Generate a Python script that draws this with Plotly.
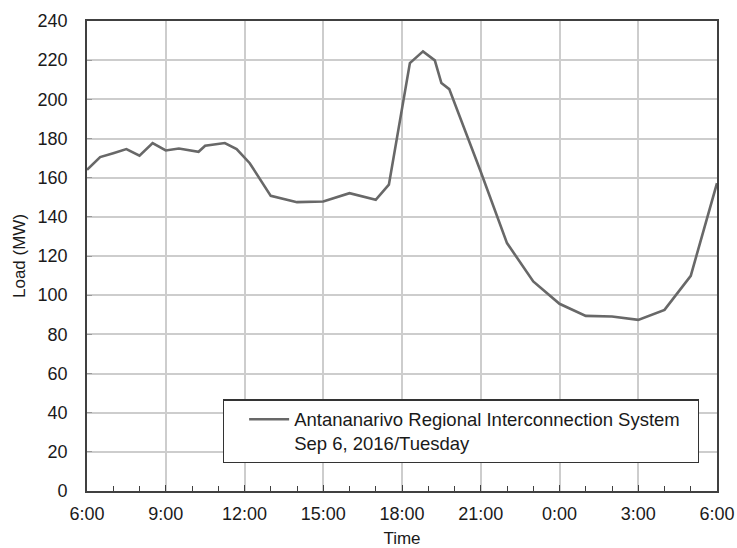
import plotly.graph_objects as go

# Hours since 0:00 on Sep 6 (values > 24 are the following morning)
hours = [6.0, 6.5, 7.0, 7.5, 8.0, 8.5, 9.0, 9.5, 10.25, 10.5, 11.25, 11.7,
         12.2, 13.0, 14.0, 15.0, 16.0, 17.0, 17.5, 18.0, 18.3, 18.8, 19.25,
         19.5, 19.8, 21.0, 22.0, 23.0, 24.0, 25.0, 26.0, 27.0, 28.0, 29.0, 30.0]
load_mw = [164.0, 170.5, 172.5, 174.6, 171.2, 177.7, 173.9, 174.9, 173.2, 176.3, 177.7, 174.6,
           167.4, 150.7, 147.5, 147.8, 152.1, 148.7, 156.4, 196.0, 218.5, 224.5, 219.9,
           208.3, 205.2, 163.0, 126.6, 107.0, 95.6, 89.4, 89.1, 87.4, 92.5, 109.9, 157.2]

x_tickvals = [6, 9, 12, 15, 18, 21, 24, 27, 30]
x_ticktext = ["6:00", "9:00", "12:00", "15:00", "18:00", "21:00", "0:00", "3:00", "6:00"]
y_tickvals = list(range(0, 241, 20))

series_name = "Antananarivo Regional Interconnection System<br>Sep 6, 2016/Tuesday"

font_family = "Liberation Sans, Arial, sans-serif"
text_color = "#1a1a1a"

fig = go.Figure()
fig.add_trace(go.Scatter(
    x=hours, y=load_mw, mode="lines", name=series_name,
    line=dict(color="#686868", width=2.6),
    showlegend=True,
))

fig.update_layout(
    width=737, height=548,
    margin=dict(l=87, r=20, t=21, b=57, autoexpand=False),
    paper_bgcolor="white", plot_bgcolor="white",
    font=dict(family=font_family, size=18, color=text_color),
    showlegend=True,
    legend=dict(
        x=0.2156, y=0.195, xanchor="left", yanchor="top",
        bgcolor="white", bordercolor="#333333", borderwidth=1.3,
        font=dict(family=font_family, size=18.5, color=text_color),
        valign="top", indentation=20, itemwidth=40,
        orientation="h", entrywidth=398, entrywidthmode="pixels",
        tracegroupgap=0,
    ),
)

fig.update_xaxes(
    range=[6, 30],
    tickmode="array", tickvals=x_tickvals, ticktext=x_ticktext,
    ticks="inside", ticklen=6, tickcolor="#404040", tickwidth=1.3,
    minor=dict(dtick=1, tick0=6, ticks="inside", ticklen=5, tickcolor="#404040",
               tickwidth=1.2, showgrid=False),
    showgrid=True, gridcolor="#cdcdcd", gridwidth=1.5,
    showline=True, linecolor="#404040", linewidth=1.6, mirror=True,
    zeroline=False,
    tickfont=dict(size=18), ticklabelstandoff=6,
    title=dict(text="Time", font=dict(size=17), standoff=15),
)
fig.update_yaxes(
    range=[0, 240],
    tickmode="array", tickvals=y_tickvals,
    ticks="inside", ticklen=5, tickcolor="#9a9a9a", tickwidth=1.3,
    showgrid=True, gridcolor="#cdcdcd", gridwidth=1.5,
    showline=True, linecolor="#404040", linewidth=1.6, mirror=True,
    zeroline=False,
    tickfont=dict(size=18), ticklabelstandoff=14,
    title=dict(text="Load (MW)", font=dict(size=17), standoff=8),
)

fig.write_html("out.html")
